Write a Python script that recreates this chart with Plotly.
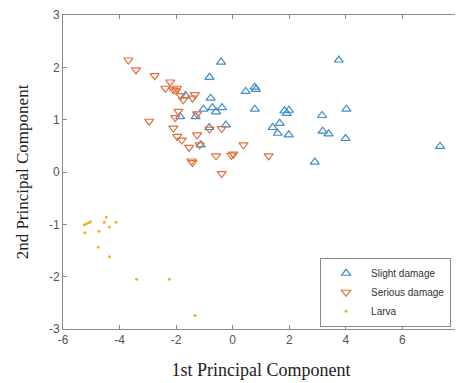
import plotly.graph_objects as go

slight_x = [-0.41, -0.82, 0.46, 0.78, 0.82, -1.67, -0.78, -1.03, -0.72, -0.59, -0.38, 0.78,
            -1.86, -1.31, -0.24, -0.83, -1.13, 1.83, 1.99, 1.91, 3.75, 1.41, 1.66, 1.59, 1.98,
            3.16, 4.02, 3.18, 3.39, 3.99, 2.90, 7.33]
slight_y = [2.10, 1.81, 1.54, 1.62, 1.58, 1.46, 1.41, 1.20, 1.23, 1.15, 1.23, 1.20,
            1.06, 1.06, 0.90, 0.85, 0.52, 1.17, 1.18, 1.12, 2.14, 0.85, 0.93, 0.74, 0.71,
            1.08, 1.20, 0.78, 0.73, 0.64, 0.19, 0.49]

serious_x = [-3.69, -3.42, -2.76, -2.21, -2.38, -2.10, -2.00, -1.98, -1.84, -1.75, -1.34, -1.42,
             -2.95, -1.92, -2.03, -1.26, -2.10, -1.96, -1.80, -1.26, -0.82, -0.39, -1.54, -1.17,
             0.38, -0.59, -0.05, 0.02, -1.46, -1.42, -0.39, 1.27]
serious_y = [2.14, 1.95, 1.84, 1.72, 1.60, 1.57, 1.55, 1.60, 1.46, 1.38, 1.48, 1.41,
             0.97, 1.16, 1.04, 1.11, 0.84, 0.68, 0.61, 0.71, 0.82, 0.83, 0.47, 0.52,
             0.52, 0.31, 0.32, 0.34, 0.21, 0.18, -0.03, 0.31]

larva_x = [-5.25, -5.17, -5.09, -5.03, -5.23, -4.73, -4.47, -4.54, -4.36, -4.13, -4.75, -4.36,
           -3.40, -2.24, -1.33]
larva_y = [-1.01, -0.99, -0.97, -0.95, -1.16, -1.13, -0.86, -0.96, -1.05, -0.96, -1.44, -1.62,
           -2.05, -2.05, -2.74]

x_ticks = [-6, -4, -2, 0, 2, 4, 6, 8]
y_ticks = [-3, -2, -1, 0, 1, 2, 3]

fig = go.Figure()
fig.add_trace(go.Scatter(x=slight_x, y=slight_y, mode="markers", name="Slight damage",
                         marker=dict(symbol="triangle-up-open", size=8, color="#3f8fc9",
                                     line=dict(width=1.2))))
fig.add_trace(go.Scatter(x=serious_x, y=serious_y, mode="markers", name="Serious damage",
                         marker=dict(symbol="triangle-down-open", size=8, color="#e0703c",
                                     line=dict(width=1.2))))
fig.add_trace(go.Scatter(x=larva_x, y=larva_y, mode="markers", name="Larva",
                         marker=dict(symbol="circle", size=3, color="#EDB120")))

axis_common = dict(showline=True, linecolor="#8a8a8a", linewidth=1, mirror="ticks",
                   ticks="inside", ticklen=4, tickcolor="#8a8a8a", showgrid=False, zeroline=False,
                   automargin=False, ticklabeloverflow="allow",
                   tickfont=dict(family="Liberation Sans, Arial", size=12, color="#555555"))

fig.update_xaxes(range=[-6, 8], tickvals=x_ticks, ticktext=[str(v) for v in x_ticks],
                 title=dict(text="1st Principal Component", standoff=16,
                            font=dict(family="Liberation Serif, Times New Roman", size=18, color="#222222")),
                 **axis_common)
fig.update_yaxes(range=[-3, 3], tickvals=y_ticks, ticktext=[str(v) for v in y_ticks],
                 title=dict(text="2nd Principal Component", standoff=15,
                            font=dict(family="Liberation Serif, Times New Roman", size=17, color="#222222")),
                 **axis_common)

fig.update_layout(
    width=455, height=375,
    margin=dict(l=55, r=4, t=7, b=54),
    plot_bgcolor="white", paper_bgcolor="white",
    legend=dict(x=0.98, y=0.117, xanchor="right", yanchor="middle",
                bgcolor="white", bordercolor="#8a8a8a", borderwidth=1,
                font=dict(family="Liberation Sans, Arial", size=10, color="#333333"),
                tracegroupgap=0, itemwidth=40),
    showlegend=True,
)

fig.write_html("out.html")
